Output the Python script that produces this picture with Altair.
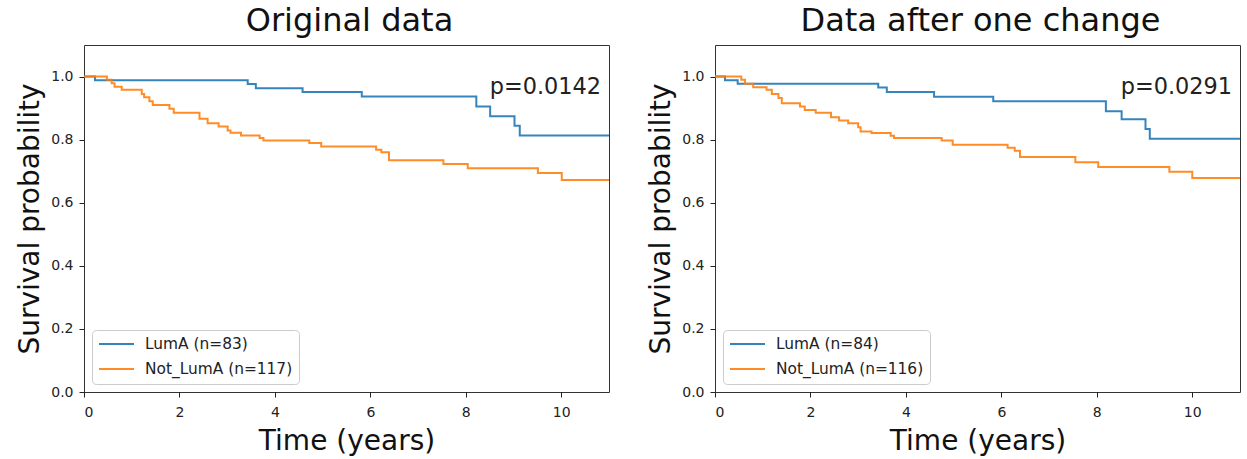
import altair as alt
import pandas as pd

# Kaplan-Meier step curves (time in years, survival probability)
orig_luma_t = [0, 0.23, 3.43, 3.60, 4.58, 5.82, 8.22, 8.51, 9.02, 9.13, 11]
orig_luma_s = [1.0, 0.988, 0.976, 0.963, 0.951, 0.937, 0.905, 0.874, 0.844, 0.813, 0.813]

orig_other_t = [0, 0.48, 0.58, 0.64, 0.79, 1.21, 1.26, 1.37, 1.44, 1.79, 1.88, 2.42,
                2.59, 2.82, 3.01, 3.07, 3.29, 3.68, 3.76, 4.72, 4.97, 6.12, 6.23,
                6.39, 7.53, 8.04, 9.51, 10.01, 11]
orig_other_s = [1.0, 0.990, 0.979, 0.968, 0.958, 0.945, 0.934, 0.922, 0.910, 0.898,
                0.885, 0.866, 0.852, 0.842, 0.829, 0.822, 0.813, 0.805, 0.797, 0.789,
                0.778, 0.768, 0.760, 0.735, 0.723, 0.709, 0.694, 0.672, 0.672]

chg_luma_t = [0, 0.21, 0.475, 3.42, 3.60, 4.59, 5.83, 8.19, 8.52, 9.02, 9.11, 11]
chg_luma_s = [1.0, 0.988, 0.977, 0.965, 0.951, 0.936, 0.922, 0.890, 0.865, 0.834, 0.803, 0.803]

chg_other_t = [0, 0.55, 0.63, 0.80, 1.08, 1.19, 1.33, 1.40, 1.78, 1.88, 2.11, 2.43,
               2.60, 2.79, 3.00, 3.05, 3.28, 3.68, 3.75, 4.75, 4.98, 6.13, 6.28,
               6.39, 7.55, 8.03, 9.52, 10.0, 11]
chg_other_s = [1.0, 0.990, 0.977, 0.966, 0.958, 0.945, 0.932, 0.915, 0.905, 0.894,
               0.885, 0.871, 0.861, 0.852, 0.839, 0.826, 0.821, 0.812, 0.805, 0.797,
               0.784, 0.774, 0.765, 0.745, 0.728, 0.713, 0.698, 0.678, 0.678]

orig_labels = ["LumA (n=83)", "Not_LumA (n=117)"]
chg_labels = ["LumA (n=84)", "Not_LumA (n=116)"]
titles = ["Original data", "Data after one change"]
pvalues = ["p=0.0142", "p=0.0291"]

colors = ["#1f77b4", "#ff7f0e"]
FONT = "DejaVu Sans"


def frame(series, labels):
    rows = []
    for (ts, ss), lab in zip(series, labels):
        for i, (t, s) in enumerate(zip(ts, ss)):
            rows.append({"t": t, "s": s, "group": lab, "idx": i})
    return pd.DataFrame(rows)


def panel(title, series, labels, pval):
    df = frame(series, labels)
    x = alt.X("t:Q",
              scale=alt.Scale(domain=[0, 11], nice=False, zero=False),
              axis=alt.Axis(values=[0, 2, 4, 6, 8, 10], title="Time (years)"))
    y = alt.Y("s:Q",
              scale=alt.Scale(domain=[0, 1.1], nice=False),
              axis=alt.Axis(values=[0, 0.2, 0.4, 0.6, 0.8, 1.0], format=".1f",
                            title="Survival probability"))
    color = alt.Color("group:N",
                      scale=alt.Scale(domain=labels, range=colors),
                      legend=alt.Legend(title=None, orient="bottom-left", offset=8,
                                        fillColor="white", strokeColor="#cccccc",
                                        cornerRadius=4, padding=6,
                                        symbolType="M-1,0H4", symbolSize=196,
                                        symbolStrokeWidth=2, labelOffset=31,
                                        labelFontSize=15.4, labelFont=FONT,
                                        labelColor="#222222", rowPadding=8))
    lines = alt.Chart(df).mark_line(
        interpolate="step-after", strokeWidth=2, clip=True, opacity=0.9
    ).encode(x=x, y=y, color=color, order="idx:Q")

    ptext = alt.Chart(pd.DataFrame({"t": [8.5], "s": [0.945], "label": [pval]})).mark_text(
        align="left", baseline="alphabetic", fontSize=22.4, font=FONT, color="#222222"
    ).encode(x="t:Q", y="s:Q", text="label:N")

    return alt.layer(lines, ptext).properties(
        width=525, height=347,
        title=alt.TitleParams(title, fontSize=32, font=FONT, fontWeight="normal",
                              color="#111111", offset=7, frame="group", dx=3)
    )


left = panel(titles[0], [(orig_luma_t, orig_luma_s), (orig_other_t, orig_other_s)],
             orig_labels, pvalues[0])
right = panel(titles[1], [(chg_luma_t, chg_luma_s), (chg_other_t, chg_other_s)],
              chg_labels, pvalues[1])

chart = alt.hconcat(left, right, spacing=37).resolve_scale(
    color="independent"
).resolve_legend(color="independent").properties(
    padding={"left": 16, "top": 4, "right": 0, "bottom": 0}
).configure_view(
    stroke="#333333", strokeWidth=1
).configure_axis(
    grid=False, domain=False, tickColor="#222222", tickSize=5, tickWidth=1,
    labelFont=FONT, labelFontSize=14, labelColor="#222222",
    titleFont=FONT, titleFontSize=28, titleFontWeight="normal", titleColor="#111111"
).configure_axisX(
    labelPadding=8, titlePadding=8
).configure_axisY(
    labelPadding=6, titlePadding=6
)

chart.save("out.html", embed_options={"renderer": "svg", "actions": False})
